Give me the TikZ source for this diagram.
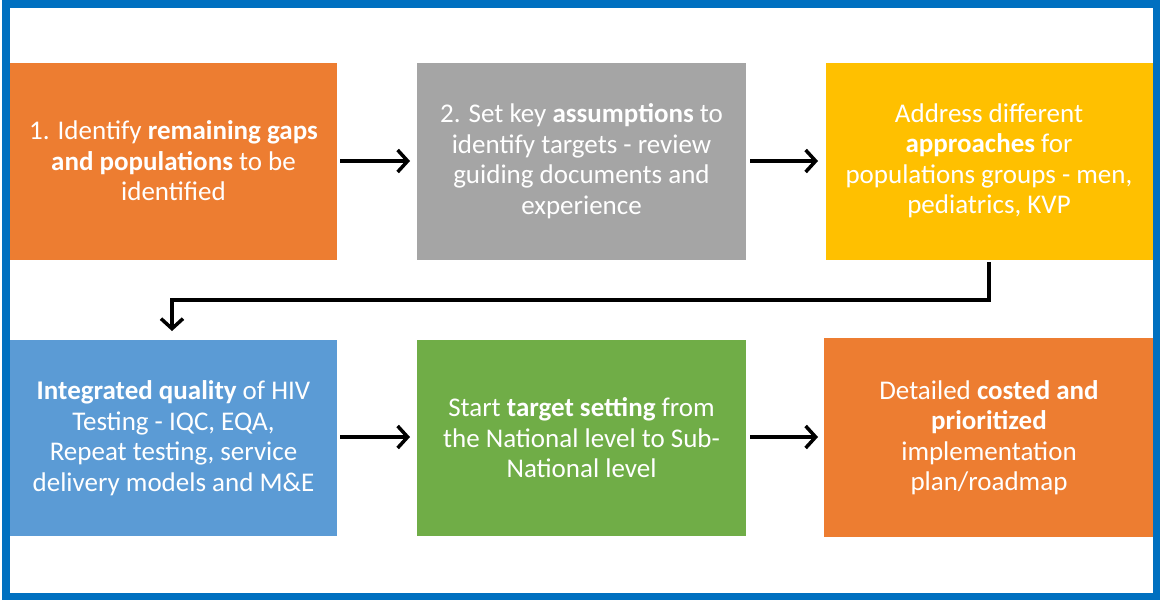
\documentclass[tikz,border=0pt]{standalone}
\usepackage{fontspec}
\setmainfont{Carlito}
\usetikzlibrary{arrows.meta}

\definecolor{frameblue}{HTML}{0070C0}
\definecolor{boxorange}{HTML}{ED7D31}
\definecolor{boxgray}{HTML}{A5A5A5}
\definecolor{boxyellow}{HTML}{FFC000}
\definecolor{boxblue}{HTML}{5B9BD5}
\definecolor{boxgreen}{HTML}{70AD47}

\tikzset{
  stepbox/.style={draw=none, inner sep=0pt, text=white, align=center,
    font=\fontsize{27}{30.5}\selectfont},
  flow/.style={line width=3.5pt, draw=black,
    -{Straight Barb[length=10pt,width=22pt,line width=3.5pt]}},
}

\begin{document}
\begin{tikzpicture}[x=1pt,y=-1pt]
  \useasboundingbox (0,0) rectangle (1160,600);

  % coloured step panels
  \fill[boxorange] (10,63) rectangle (337,260);
  \fill[boxgray]   (417,63) rectangle (746,260);
  \fill[boxyellow] (826,63) rectangle (1156,260);
  \fill[boxblue]   (10,340) rectangle (337,536);
  \fill[boxgreen]  (417,340) rectangle (746,536);
  \fill[boxorange] (824,338) rectangle (1156,537);

  % step texts
  \node[stepbox] (s1) at (173.5,161) {1. Identify \textbf{remaining gaps}\\\textbf{and populations} to be\\identified};
  \node[stepbox] (s2) at (581.5,161) {2. Set key \textbf{assumptions} to\\identify targets - review\\guiding documents and\\experience};
  \node[stepbox] (s3) at (989,161) {Address different\\\textbf{approaches} for\\populations groups - men,\\pediatrics, KVP};
  \node[stepbox] (s4) at (173.5,438) {\textbf{Integrated quality} of HIV\\Testing - IQC, EQA,\\Repeat testing, service\\delivery models and M\&E};
  \node[stepbox] (s5) at (581.5,438) {Start \textbf{target setting} from\\the National level to Sub-\\National level};
  \node[stepbox] (s6) at (989,437.5) {Detailed \textbf{costed and}\\\textbf{prioritized}\\implementation\\plan/roadmap};

  % connector anchor points on the panel edges
  \coordinate (b1e) at (340,161);
  \coordinate (b2w) at (410,161);
  \coordinate (b2e) at (750,161);
  \coordinate (b3w) at (818,161);
  \coordinate (b3s) at (989,262);
  \coordinate (b4n) at (172,331);
  \coordinate (b4e) at (340,437);
  \coordinate (b5w) at (410,437);
  \coordinate (b5e) at (750,437);
  \coordinate (b6w) at (818,437);

  % arrows
  \draw[flow] (b1e) -- (b2w);
  \draw[flow] (b2e) -- (b3w);
  \draw[flow] (b3s) |- (580,300) -| (b4n);
  \draw[flow] (b4e) -- (b5w);
  \draw[flow] (b5e) -- (b6w);

  % outer frame
  \draw[frameblue, line width=7.5pt] (6,3.75) rectangle (1157,596.25);
\end{tikzpicture}
\end{document}
